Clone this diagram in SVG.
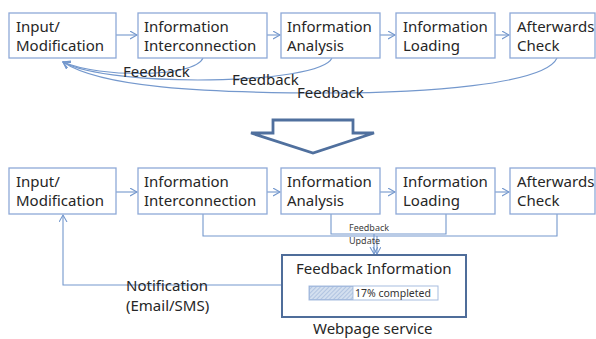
<svg xmlns="http://www.w3.org/2000/svg" width="596" height="339" viewBox="0 0 596 339">
<defs>
<style>
.box{fill:#fff;stroke:#8EA9D8;stroke-width:1.3}
.t{font-family:"Noto Sans","Open Sans","Liberation Sans",sans-serif;font-size:15px;fill:#262626}
.s{font-family:"Noto Sans","Open Sans","Liberation Sans",sans-serif;font-size:9px;fill:#404040}
.c{fill:none;stroke:#7498CD;stroke-width:1.1}
</style>
<marker id="ah" markerUnits="userSpaceOnUse" markerWidth="10" markerHeight="10" refX="7" refY="4" orient="auto">
<path d="M0,0 L7,4 L0,8" fill="none" stroke="#7498CD" stroke-width="1.1"/>
</marker>
<pattern id="hatch" patternUnits="userSpaceOnUse" width="3" height="3" patternTransform="rotate(45)">
<rect width="3" height="3" fill="#D3DFEF"/>
<line x1="0" y1="0" x2="0" y2="3" stroke="#8FA9D3" stroke-width="1"/>
</pattern>
</defs>
<rect width="596" height="339" fill="#fff"/>

<g id="connectors">
<line class="c" x1="116" y1="35" x2="137" y2="35" marker-end="url(#ah)"/>
<line class="c" x1="267" y1="35" x2="280" y2="35" marker-end="url(#ah)"/>
<line class="c" x1="380" y1="35" x2="395" y2="35" marker-end="url(#ah)"/>
<line class="c" x1="495" y1="35" x2="509" y2="35" marker-end="url(#ah)"/>
<path class="c" d="M203,58 C195,78 100,78 63,62" marker-end="url(#ah)"/>
<path class="c" d="M332,58 C320,85 110,88 63,62" marker-end="url(#ah)"/>
<path class="c" d="M557,58 C545,85 420,93 330,93 C200,93 100,87 63,62" marker-end="url(#ah)"/>

<line class="c" x1="116" y1="192" x2="137" y2="192" marker-end="url(#ah)"/>
<line class="c" x1="267" y1="192" x2="280" y2="192" marker-end="url(#ah)"/>
<line class="c" x1="380" y1="192" x2="395" y2="192" marker-end="url(#ah)"/>
<line class="c" x1="495" y1="192" x2="509" y2="192" marker-end="url(#ah)"/>
<polyline class="c" points="203,214 203,236 557,236 557,214"/>
<polyline class="c" points="331,214 331,234 446,234 446,214"/>
<line class="c" x1="374" y1="234" x2="374" y2="254" marker-end="url(#ah)"/>
<line class="c" x1="377" y1="236" x2="377" y2="254" marker-end="url(#ah)"/>
<polyline class="c" points="282,285 63,285 63,215" marker-end="url(#ah)"/>
</g>

<g id="feedback-labels">
<text class="t" x="123" y="77">Feedback</text>
<text class="t" x="232" y="85">Feedback</text>
<text class="t" x="297" y="98">Feedback</text>
<text class="s" x="349" y="231">Feedback</text>
<text class="s" x="349" y="244">Update</text>
<text class="t" x="126" y="291">Notification</text>
<text class="t" x="126" y="311">(Email/SMS)</text>
</g>

<g id="top-input">
<rect class="box" x="9" y="13" width="107" height="45"/>
<text class="t" x="16" y="32">Input/</text>
<text class="t" x="16" y="51">Modification</text>
</g>
<g id="top-interconnection">
<rect class="box" x="138" y="13" width="129" height="45"/>
<text class="t" x="144" y="32">Information</text>
<text class="t" x="144" y="51">Interconnection</text>
</g>
<g id="top-analysis">
<rect class="box" x="281" y="13" width="99" height="45"/>
<text class="t" x="287" y="32">Information</text>
<text class="t" x="287" y="51">Analysis</text>
</g>
<g id="top-loading">
<rect class="box" x="396" y="13" width="99" height="45"/>
<text class="t" x="403" y="32">Information</text>
<text class="t" x="403" y="51">Loading</text>
</g>
<g id="top-check">
<rect class="box" x="510" y="13" width="85" height="45"/>
<text class="t" x="517" y="32">Afterwards</text>
<text class="t" x="517" y="51">Check</text>
</g>

<g id="big-arrow">
<path d="M273,120 L353,120 L353,133 L374,133 L313,153 L251,133 L273,133 Z" fill="#fff" stroke="#50709E" stroke-width="2.8" stroke-linejoin="miter"/>
</g>

<g id="bottom-input">
<rect class="box" x="9" y="168" width="107" height="46"/>
<text class="t" x="16" y="187">Input/</text>
<text class="t" x="16" y="206">Modification</text>
</g>
<g id="bottom-interconnection">
<rect class="box" x="138" y="168" width="129" height="46"/>
<text class="t" x="144" y="187">Information</text>
<text class="t" x="144" y="206">Interconnection</text>
</g>
<g id="bottom-analysis">
<rect class="box" x="281" y="168" width="99" height="46"/>
<text class="t" x="287" y="187">Information</text>
<text class="t" x="287" y="206">Analysis</text>
</g>
<g id="bottom-loading">
<rect class="box" x="396" y="168" width="99" height="46"/>
<text class="t" x="403" y="187">Information</text>
<text class="t" x="403" y="206">Loading</text>
</g>
<g id="bottom-check">
<rect class="box" x="510" y="168" width="85" height="46"/>
<text class="t" x="517" y="187">Afterwards</text>
<text class="t" x="517" y="206">Check</text>
</g>

<g id="feedback-information">
<rect x="282" y="255" width="184" height="62" fill="#fff" stroke="#4F6D9A" stroke-width="2"/>
<text class="t" x="296" y="274">Feedback Information</text>
<rect x="309" y="286" width="129" height="14" fill="#fff" stroke="#A7BDDF" stroke-width="1"/>
<rect x="309.5" y="286.5" width="43.5" height="13" fill="url(#hatch)" stroke="#9BB3DA" stroke-width="0.8"/>
<text x="355" y="297" font-family="'Noto Sans','Open Sans','Liberation Sans',sans-serif" font-size="10.5" fill="#333">17% completed</text>
<text class="t" x="313" y="334">Webpage service</text>
</g>
</svg>
